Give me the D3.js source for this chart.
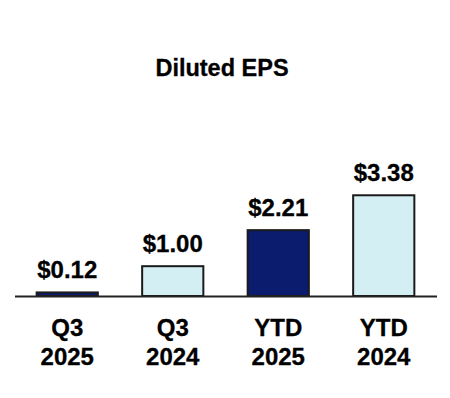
<!DOCTYPE html>
<html>
<head>
<meta charset="utf-8">
<script src="https://cdn.jsdelivr.net/npm/d3@7"></script>
<style>
  html, body { margin: 0; padding: 0; background: #ffffff; }
  svg { display: block; font-family: "Liberation Sans", Arial, Helvetica, sans-serif; }
</style>
</head>
<body>
<svg id="chart" width="450" height="398"></svg>
<script>
const title = "Diluted EPS";
const categoriesLine1 = ["Q3", "Q3", "YTD", "YTD"];
const categoriesLine2 = ["2025", "2024", "2025", "2024"];
const values = [0.12, 1.00, 2.21, 3.38];
const valueLabels = ["$0.12", "$1.00", "$2.21", "$3.38"];
const barColors = ["#0b1b6e", "#d4eff3", "#0b1b6e", "#d4eff3"];

const ids = values.map((d, i) => i);
const svg = d3.select("#chart");

const x = d3.scaleBand()
  .domain(ids)
  .range([14.5, 436.5])
  .paddingInner(0.42)
  .paddingOuter(0.21);

const baseY = 296;
const y = d3.scaleLinear().domain([0, 4]).range([baseY, baseY - 4 * 29.8]);

// title
svg.append("text")
  .attr("x", 222)
  .attr("y", 76)
  .attr("text-anchor", "middle")
  .attr("font-size", 23.5)
  .attr("font-weight", "bold")
  .attr("fill", "#000")
  .attr("stroke", "#000")
  .attr("stroke-width", 0.3)
  .text(title);

// bars
svg.selectAll("rect.bar")
  .data(ids)
  .enter().append("rect")
  .attr("class", "bar")
  .attr("x", i => x(i))
  .attr("width", x.bandwidth())
  .attr("y", i => y(values[i]))
  .attr("height", i => y(0) - y(values[i]))
  .attr("fill", i => barColors[i])
  .attr("stroke", "#1a1a1a")
  .attr("stroke-width", 2);

// baseline axis
const axis = d3.axisBottom(x).tickSize(0).tickFormat("");
const axisG = svg.append("g")
  .attr("transform", `translate(0,${baseY})`)
  .call(axis);
axisG.select(".domain").attr("stroke", "#222").attr("stroke-width", 2);

// value labels
svg.selectAll("text.val")
  .data(ids)
  .enter().append("text")
  .attr("class", "val")
  .attr("x", i => x(i) + x.bandwidth() / 2)
  .attr("y", i => y(values[i]) - 14)
  .attr("text-anchor", "middle")
  .attr("font-size", 24)
  .attr("font-weight", "bold")
  .attr("fill", "#000")
  .attr("stroke", "#000")
  .attr("stroke-width", 0.3)
  .text(i => valueLabels[i]);

// category labels
const cat = svg.selectAll("text.cat")
  .data(ids)
  .enter().append("text")
  .attr("class", "cat")
  .attr("text-anchor", "middle")
  .attr("font-size", 24)
  .attr("font-weight", "bold")
  .attr("fill", "#000")
  .attr("stroke", "#000")
  .attr("stroke-width", 0.3);
cat.append("tspan")
  .attr("x", i => x(i) + x.bandwidth() / 2)
  .attr("y", 336)
  .text(i => categoriesLine1[i]);
cat.append("tspan")
  .attr("x", i => x(i) + x.bandwidth() / 2)
  .attr("y", 364.5)
  .text(i => categoriesLine2[i]);
</script>
</body>
</html>
